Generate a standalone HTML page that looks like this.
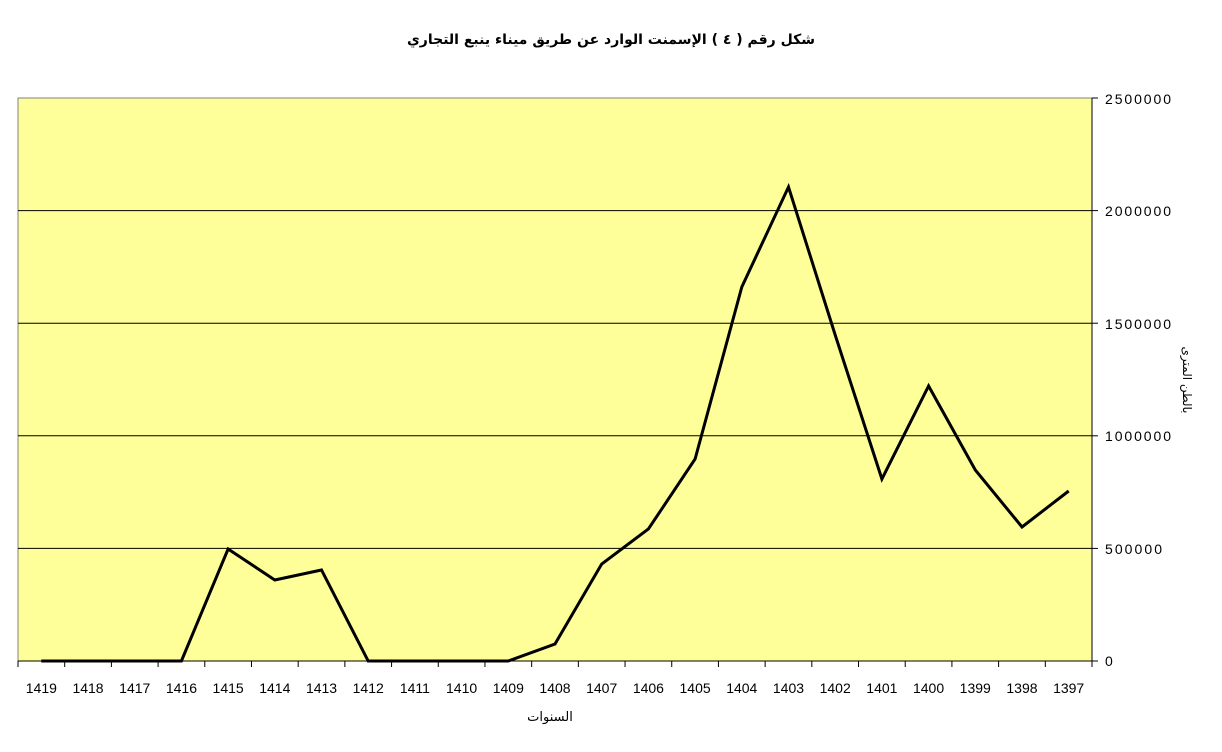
<!DOCTYPE html>
<html><head><meta charset="utf-8"><style>
html,body{margin:0;padding:0;background:#fff;width:1222px;height:752px;overflow:hidden}
</style></head><body>
<svg width="1222" height="752" xmlns="http://www.w3.org/2000/svg" font-family="Liberation Sans, DejaVu Sans, sans-serif">
<text x="611" y="44" text-anchor="middle" font-size="14" font-weight="bold" direction="rtl" font-family="DejaVu Sans, sans-serif">شكل رقم ( ٤ ) الإسمنت الوارد عن طريق ميناء ينبع التجاري</text>
<rect x="18" y="98" width="1074" height="563" fill="#FFFF99" stroke="#808080" stroke-width="1"/>
<g stroke="#000" stroke-width="1">
<line x1="18" y1="210.6" x2="1092" y2="210.6"/>
<line x1="18" y1="323.2" x2="1092" y2="323.2"/>
<line x1="18" y1="435.8" x2="1092" y2="435.8"/>
<line x1="18" y1="548.4" x2="1092" y2="548.4"/>
<line x1="1092" y1="98" x2="1092" y2="661"/>
<line x1="18" y1="661" x2="1092" y2="661"/>
<line x1="1092" y1="98" x2="1098" y2="98"/>
<line x1="1092" y1="210.6" x2="1098" y2="210.6"/>
<line x1="1092" y1="323.2" x2="1098" y2="323.2"/>
<line x1="1092" y1="435.8" x2="1098" y2="435.8"/>
<line x1="1092" y1="548.4" x2="1098" y2="548.4"/>
<line x1="1092" y1="661" x2="1098" y2="661"/>
</g>
<g id="xt" stroke="#000" stroke-width="1"></g>
<g font-size="14" fill="#000">
<text x="1105" y="104" textLength="66">2500000</text>
<text x="1105" y="216" textLength="66">2000000</text>
<text x="1105" y="329" textLength="66">1500000</text>
<text x="1105" y="441" textLength="66">1000000</text>
<text x="1105" y="554" textLength="57">500000</text>
<text x="1105" y="666">0</text>
</g>
<text transform="translate(1183,380) rotate(90)" text-anchor="middle" font-size="12" font-family="DejaVu Sans, sans-serif">بالطن المترى</text>
<g id="xl" font-size="14" text-anchor="middle"></g>
<text x="550" y="721" text-anchor="middle" font-size="13" font-family="DejaVu Sans, sans-serif">السنوات</text>
<polyline fill="none" stroke="#000" stroke-width="3" stroke-linejoin="miter" points="41.3,661 88,661 134.7,661 181.4,661 228.1,549 274.8,580 321.5,570 368.2,661 414.9,661 461.6,661 508.3,661 555,644 601.7,564 648.4,529 695.1,459 741.8,287 788.5,187 835.2,335 881.9,479 928.6,386 975.3,470 1022,527 1068.7,491"/>
<script>
var xt=document.getElementById('xt'),xl=document.getElementById('xl'),ns='http://www.w3.org/2000/svg';
for(var i=0;i<=23;i++){var x=18+i*1074/23;var l=document.createElementNS(ns,'line');l.setAttribute('x1',x);l.setAttribute('x2',x);l.setAttribute('y1',661);l.setAttribute('y2',667);xt.appendChild(l);}
for(var i=0;i<23;i++){var t=document.createElementNS(ns,'text');t.setAttribute('x',18+(i+0.5)*1074/23);t.setAttribute('y',693);t.textContent=1419-i;xl.appendChild(t);}
</script>
</svg>
</body></html>
